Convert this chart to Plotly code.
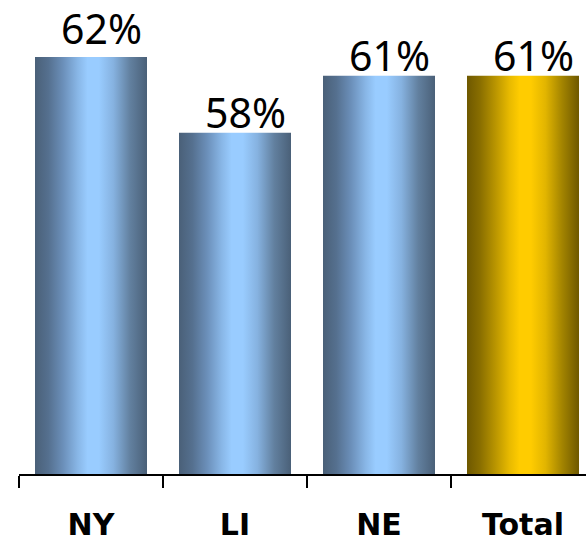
import plotly.graph_objects as go

categories = ["NY", "LI", "NE", "Total"]
values = [62, 58, 61, 61]
labels = ["62%", "58%", "61%", "61%"]

blue_scale = [[0.0, "#4a6078"], [0.12, "#55708f"], [0.25, "#6b8fb9"], [0.38, "#88b6e6"],
              [0.47, "#99ccff"], [0.57, "#99ccff"], [0.7, "#86b2e0"], [0.85, "#62809f"],
              [1.0, "#4a6078"]]
gold_scale = [[0.0, "#6e5800"], [0.12, "#8a6f00"], [0.25, "#b89400"], [0.38, "#e8ba00"],
              [0.47, "#ffcc00"], [0.57, "#ffcc00"], [0.7, "#e2b500"], [0.85, "#a38400"],
              [1.0, "#6e5800"]]

CAT_PX = 144
BAR_W = 112 / CAT_PX
Y_MIN = 40
Y_MAX = 65

fig = go.Figure()
for i, (cat, v) in enumerate(zip(categories, values)):
    x0, x1 = i - BAR_W / 2, i + BAR_W / 2
    scale = gold_scale if cat == "Total" else blue_scale
    fig.add_trace(go.Scatter(
        x=[x0, x1, x1, x0, x0],
        y=[Y_MIN, Y_MIN, v, v, Y_MIN],
        mode="lines",
        line=dict(width=0),
        fill="toself",
        fillgradient=dict(type="horizontal", colorscale=scale),
        name=cat,
        hoverinfo="skip",
        showlegend=False,
    ))

label_yshift = [-1, -9, -9, -9]
for i, (v, t) in enumerate(zip(values, labels)):
    fig.add_annotation(
        x=i, y=v, text=t, showarrow=False,
        xanchor="center", yanchor="bottom",
        xshift=10, yshift=label_yshift[i],
        font=dict(family="Noto Sans", size=41, color="black"),
    )

fig.update_layout(
    width=586, height=543,
    margin=dict(l=19, r=0, t=0, b=69, autoexpand=False),
    plot_bgcolor="white", paper_bgcolor="white",
    showlegend=False,
)
fig.update_xaxes(
    automargin=False,
    range=[-0.5, -0.5 + 567 / CAT_PX],
    tickmode="array", tickvals=list(range(len(categories))), ticktext=categories,
    ticks="", showgrid=False, zeroline=False,
    showline=True, linecolor="black", linewidth=1.5,
    tickfont=dict(family="DejaVu Sans", size=30, color="black", weight="bold"),
    ticklabelstandoff=23,
    minor=dict(tickmode="linear", tick0=-0.5, dtick=1, ticks="outside", ticklen=12,
               tickwidth=1.5, tickcolor="black", showgrid=False),
)
fig.update_yaxes(range=[Y_MIN, Y_MAX], visible=False, automargin=False)

fig.write_html("out.html")
